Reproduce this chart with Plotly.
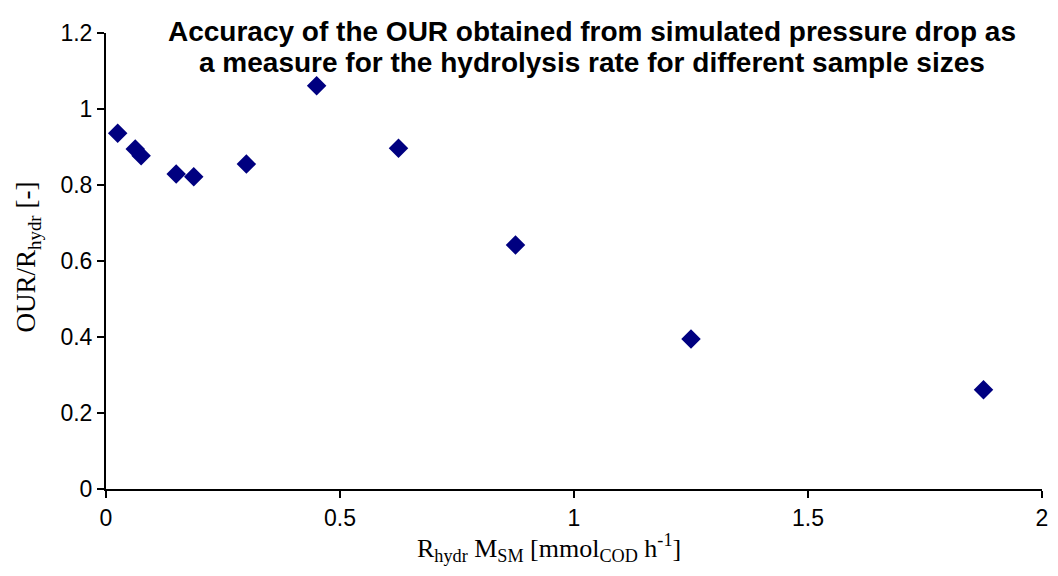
import plotly.graph_objects as go

x_vals = [0.025, 0.0625, 0.075, 0.15, 0.1875, 0.3, 0.45, 0.625, 0.875, 1.25, 1.875]
y_vals = [0.936, 0.895, 0.877, 0.829, 0.822, 0.855, 1.061, 0.897, 0.642, 0.395, 0.261]

x_ticks = [0, 0.5, 1, 1.5, 2]
x_ticklabels = ["0", "0.5", "1", "1.5", "2"]
y_ticks = [0, 0.2, 0.4, 0.6, 0.8, 1, 1.2]
y_ticklabels = ["0", "0.2", "0.4", "0.6", "0.8", "1", "1.2"]

title_line1 = "Accuracy of the OUR obtained from simulated pressure drop as"
title_line2 = "a measure for the hydrolysis rate for different sample sizes"
x_title = "R<sub>hydr</sub> M<sub>SM</sub> [mmol<sub>COD</sub> h<sup>-1</sup>]"
y_title = "OUR/R<sub>hydr</sub> [-]"

fig = go.Figure()
fig.add_trace(go.Scatter(
    x=x_vals, y=y_vals, mode="markers",
    marker=dict(symbol="diamond", size=15, color="#000080", line=dict(width=0)),
    showlegend=False,
))

serif = "Liberation Serif"
sans = "Liberation Sans"

fig.update_layout(
    width=1058, height=576,
    margin=dict(l=106, r=10, t=33, b=87),
    paper_bgcolor="white", plot_bgcolor="white",
    font=dict(family=sans, color="black", size=23),
    xaxis=dict(
        range=[0, 2], tickmode="array", tickvals=x_ticks, ticktext=x_ticklabels,
        showgrid=False, zeroline=False, showline=True, linecolor="black", linewidth=2,
        ticks="outside", ticklen=7, tickwidth=2, tickcolor="black",
        tickfont=dict(size=23, family=sans, color="black"),
    ),
    yaxis=dict(
        range=[0, 1.2], tickmode="array", tickvals=y_ticks, ticktext=y_ticklabels,
        showgrid=False, zeroline=False, showline=True, linecolor="black", linewidth=2,
        ticks="outside", ticklen=7, tickwidth=2, tickcolor="black",
        tickfont=dict(size=23, family=sans, color="black"),
    ),
    annotations=[
        dict(text="<b>" + title_line1 + "</b>", xref="paper", yref="paper",
             x=0.519, y=1.003, xanchor="center", yanchor="middle", showarrow=False,
             font=dict(family=sans, size=28, color="black")),
        dict(text="<b>" + title_line2 + "</b>", xref="paper", yref="paper",
             x=0.519, y=0.935, xanchor="center", yanchor="middle", showarrow=False,
             font=dict(family=sans, size=28, color="black")),
        dict(text=x_title, xref="paper", yref="paper",
             x=(552 - 106) / 942, y=(489 - 548) / 456, xanchor="center", yanchor="middle",
             showarrow=False, font=dict(family=serif, size=26, color="black")),
        dict(text=y_title, xref="paper", yref="paper", textangle=-90,
             x=(28 - 106) / 942, y=(489 - 257) / 456, xanchor="center", yanchor="middle",
             showarrow=False, font=dict(family=serif, size=27, color="black")),
    ],
)

fig.write_html("out.html")
